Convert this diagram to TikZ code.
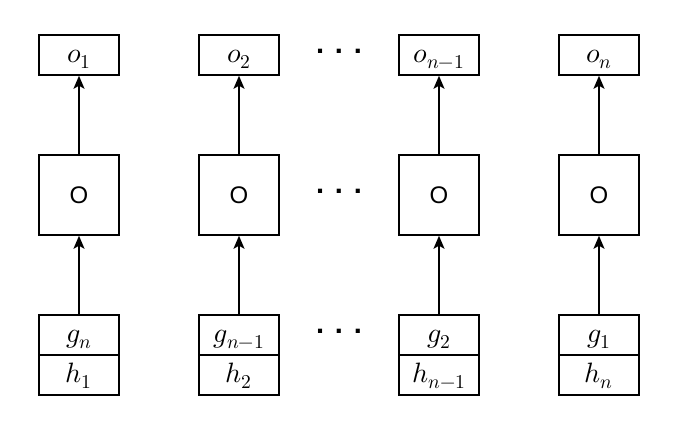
\documentclass[tikz,border=0pt]{standalone}
\usepackage{fontspec}
\usepackage{unicode-math}
\setmathfont{Latin Modern Math}
\newfontfamily\helv{Liberation Sans}
\usetikzlibrary{arrows.meta}
\begin{document}
\begin{tikzpicture}[
    x=1pt, y=-1pt,
    box/.style={draw, line width=1.5pt, minimum width=80pt, minimum height=40pt, inner sep=0pt,
      text height=20pt, text depth=6pt, font=\fontsize{28}{34}\selectfont},
    cell/.style={box, minimum height=80pt, text height=, text depth=, font=\helv\fontsize{24}{28}\selectfont},
    dots/.style={font=\helv\bfseries\fontsize{29}{32}\selectfont},
    arr/.style={-{Stealth[length=13pt, width=11pt, inset=3pt]}, line width=1.5pt}
  ]
  \useasboundingbox (0,0) rectangle (678,432);
  % outputs
  \node[box] (o1) at (79,55) {$o_1$};
  \node[box] (o2) at (239,55) {$o_2$};
  \node[box] (om) at (439,55) {$o_{n-1}$};
  \node[box] (on) at (599,55) {$o_n$};
  % cells
  \node[cell] (c1) at (79,195) {O};
  \node[cell] (c2) at (239,195) {O};
  \node[cell] (cm) at (439,195) {O};
  \node[cell] (cn) at (599,195) {O};
  % inputs
  \node[box] (g1) at (79,335) {$g_n$};
  \node[box] (h1) at (79,375) {$h_1$};
  \node[box] (g2) at (239,335) {$g_{n-1}$};
  \node[box] (h2) at (239,375) {$h_2$};
  \node[box] (gm) at (439,335) {$g_2$};
  \node[box] (hm) at (439,375) {$h_{n-1}$};
  \node[box] (gn) at (599,335) {$g_1$};
  \node[box] (hn) at (599,375) {$h_n$};
  % gaps
  \node[dots] (d1) at (339,51) {. . .};
  \node[dots] (d2) at (339,191) {. . .};
  \node[dots] (d3) at (339,331) {. . .};
  \draw[arr] (c1) -- (o1);
  \draw[arr] (c2) -- (o2);
  \draw[arr] (cm) -- (om);
  \draw[arr] (cn) -- (on);
  \draw[arr] (g1) -- (c1);
  \draw[arr] (g2) -- (c2);
  \draw[arr] (gm) -- (cm);
  \draw[arr] (gn) -- (cn);
\end{tikzpicture}
\end{document}
